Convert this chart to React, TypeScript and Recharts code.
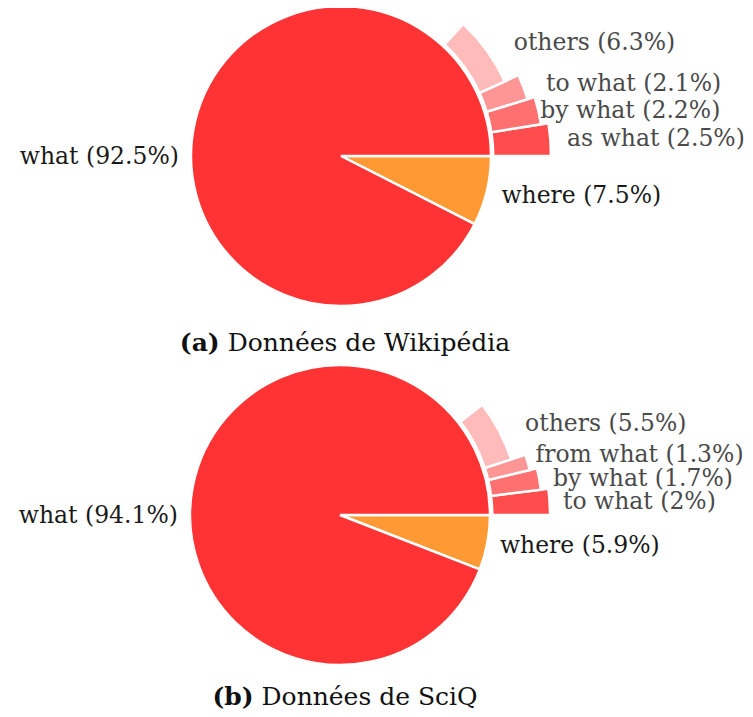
import { Cell, Pie, PieChart } from "recharts";

// main split (where first so it starts at 0° and runs clockwise)
const MAIN_NAMES = ["where", "what"];
const WIKI_MAIN = [7.5, 92.5];
const SCIQ_MAIN = [5.9, 94.1];

// breakdown of the other question words, drawn outside the pie
const WIKI_SUB_NAMES = ["as what", "by what", "to what", "others"];
const WIKI_SUB = [2.5, 2.2, 2.1, 6.3];
const SCIQ_SUB_NAMES = ["to what", "by what", "from what", "others"];
const SCIQ_SUB = [2, 1.7, 1.3, 5.5];

const CAPTIONS = [
  { tag: "(a)", text: "Données de Wikipédia" },
  { tag: "(b)", text: "Données de SciQ" },
];

const MAIN_COLORS = ["#ff9933", "#ff3333"];
const SUB_COLORS = ["#ff4d4d", "#ff7070", "#ff9595", "#ffbaba"];
const SUB_OUTER = [1.4, 1.35, 1.3, 1.2];
const FONT = "'DejaVu Serif', 'Liberation Serif', serif";
const R = 150;
const RAD = Math.PI / 180;

const toMain = (vals: number[]) =>
  MAIN_NAMES.map((name, i) => ({ name, value: vals[i] }));

const toSub = (names: string[], vals: number[]) => {
  const rows = names.map((name, i) => ({ name, value: vals[i] }));
  const used = vals.reduce((a, b) => a + b, 0);
  return [...rows, { name: "", value: 100 - used }];
};

type PanelCfg = {
  cx: number;
  cy: number;
  main: { name: string; value: number }[];
  sub: { name: string; value: number }[];
  whereDist: number;
  subDist: number[]; // label distance, as a share of the wedge's outer radius
  subNudge: number[]; // small angle shifts (deg) so the labels don't collide
};

const PANELS: PanelCfg[] = [
  {
    cx: 333,
    cy: 148,
    main: toMain(WIKI_MAIN),
    sub: toSub(WIKI_SUB_NAMES, WIKI_SUB),
    whereDist: 1.1,
    subDist: [1.08, 1.01, 1.116, 1.15],
    subNudge: [0, 0, -1.1, -2.4],
  },
  {
    cx: 332,
    cy: 507,
    main: toMain(SCIQ_MAIN),
    sub: toSub(SCIQ_SUB_NAMES, SCIQ_SUB),
    whereDist: 1.085,
    subDist: [1.064, 1.067, 1.05, 1.148],
    subNudge: [0, -0.4, 1.6, -1.5],
  },
];

function labelAt(
  cx: number,
  cy: number,
  angle: number,
  dist: number,
  txt: string,
  color: string
) {
  const x = cx + dist * Math.cos(angle * RAD);
  const y = cy - dist * Math.sin(angle * RAD);
  return (
    <text
      x={x}
      y={y}
      textAnchor={x > cx ? "start" : "end"}
      dominantBaseline="central"
      fill={color}
      fontFamily={FONT}
      fontSize={23.5}
    >
      {txt}
    </text>
  );
}

function renderPies(p: PanelCfg, key: string) {
  const out = [
    <Pie
      key={key + "-main"}
      data={p.main}
      dataKey="value"
      nameKey="name"
      cx={p.cx}
      cy={p.cy}
      outerRadius={R}
      startAngle={0}
      endAngle={-360}
      stroke="#fff"
      strokeWidth={2.5}
      labelLine={false}
      isAnimationActive={false}
      label={(lp: any) => {
        const isWhat = lp.name === "what";
        const ang = isWhat ? 180 : lp.midAngle;
        const d = R * (isWhat ? 1.08 : p.whereDist);
        return labelAt(p.cx, p.cy, ang, d, `${lp.name} (${lp.value}%)`, "#1a1a1a");
      }}
    >
      {p.main.map((_, i) => (
        <Cell key={i} fill={MAIN_COLORS[i]} />
      ))}
    </Pie>,
  ];

  SUB_COLORS.forEach((color, k) => {
    out.push(
      <Pie
        key={key + "-sub" + k}
        data={p.sub}
        dataKey="value"
        nameKey="name"
        cx={p.cx}
        cy={p.cy}
        innerRadius={R * 1.015}
        outerRadius={R * SUB_OUTER[k]}
        startAngle={0}
        endAngle={360}
        labelLine={false}
        isAnimationActive={false}
        label={(lp: any) => {
          if (lp.index !== k) return null;
          return labelAt(
            p.cx,
            p.cy,
            lp.midAngle + p.subNudge[k],
            R * SUB_OUTER[k] * p.subDist[k],
            `${lp.name} (${lp.value}%)`,
            "#4a4a4a"
          );
        }}
      >
        {p.sub.map((_, i) => (
          <Cell
            key={i}
            fill={i === k ? color : "none"}
            stroke={i === k ? "#fff" : "none"}
            strokeWidth={2.5}
          />
        ))}
      </Pie>
    );
  });
  return out;
}

export default function App() {
  return (
    <div style={{ position: "relative", width: 737, height: 701, background: "#fff" }}>
      <PieChart width={737} height={701} margin={{ top: 0, right: 0, bottom: 0, left: 0 }}>
        {renderPies(PANELS[0], "wiki")}
        {renderPies(PANELS[1], "sciq")}
      </PieChart>
      {CAPTIONS.map((c, i) => (
        <div
          key={c.tag}
          style={{
            position: "absolute",
            left: 0,
            width: 674,
            top: i === 0 ? 315 : 669,
            textAlign: "center",
            fontFamily: FONT,
            fontSize: 25,
            lineHeight: "40px",
            color: "#111",
          }}
        >
          <b>{c.tag}</b> {c.text}
        </div>
      ))}
    </div>
  );
}
